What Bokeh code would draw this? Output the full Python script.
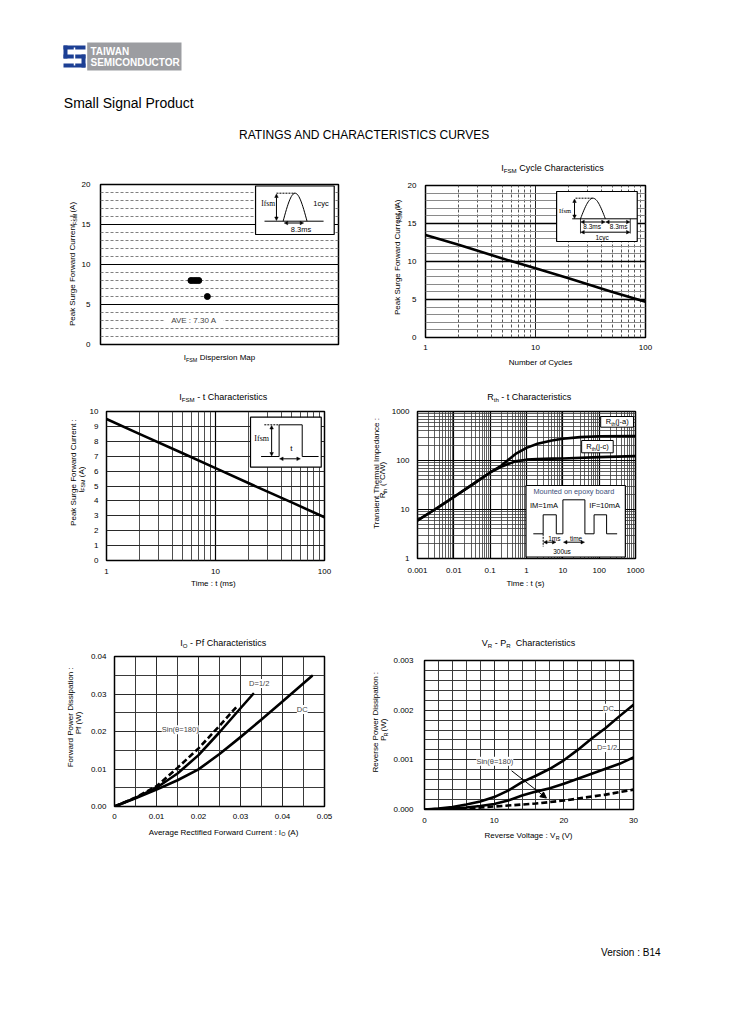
import math
import numpy as np
from bokeh.plotting import figure
from bokeh.models import Range1d, FixedTicker, Label, Arrow, NormalHead, CustomJSTickFormatter
from bokeh.layouts import column, row
from bokeh.embed import file_html
from bokeh.resources import INLINE

FONT = "Liberation Sans"
SERIF = "Liberation Serif"

# ---------------- data ----------------
# IFSM dispersion map
disp_x = [3.80, 3.91, 4.02, 4.13, 4.49]
disp_y = [8, 8, 8, 8, 6]
disp_ave = "AVE : 7.30 A"
disp_yticks = [0, 5, 10, 15, 20]

# IFSM cycle characteristics
cyc_n = [1, 2, 5, 10, 20, 50, 100]
cyc_i = [13.5, 12.2, 10.4, 9.1, 7.8, 6.0, 4.7]
cyc_xticks = [1, 10, 100]
cyc_yticks = [0, 5, 10, 15, 20]

# IFSM - t characteristics
ift_t = [1, 2, 5, 10, 20, 50, 100]
ift_i = [9.5, 8.5, 7.2, 6.2, 5.2, 3.9, 2.9]
ift_xticks = [1, 10, 100]
ift_yticks = [0, 1, 2, 3, 4, 5, 6, 7, 8, 9, 10]

# Rth - t characteristics
rth_t_ja = [0.001, 0.003, 0.01, 0.03, 0.1, 0.2, 0.5, 1, 2, 5, 10, 30, 100, 1000]
rth_ja = [6, 10, 18, 31, 57, 78, 136, 181, 219, 257, 278, 300, 312, 315]
rth_t_jc = [0.001, 0.003, 0.01, 0.03, 0.1, 0.2, 0.3, 0.5, 1, 2, 5, 10, 100, 1000]
rth_jc = [6, 10, 18, 31, 57, 74, 84, 96, 104, 107, 109, 110, 117, 123]
rth_xticks = [0.001, 0.01, 0.1, 1, 10, 100, 1000]
rth_yticks = [1, 10, 100, 1000]

# IO - Pf characteristics
io_dc_x = [0, 0.005, 0.01, 0.015, 0.02, 0.025, 0.03, 0.035, 0.04, 0.047]
io_dc_y = [0, 0.0022, 0.0045, 0.0070, 0.0099, 0.0140, 0.0185, 0.0232, 0.0280, 0.0348]
io_d2_x = [0, 0.005, 0.01, 0.015, 0.02, 0.025, 0.03, 0.033]
io_d2_y = [0, 0.0023, 0.0050, 0.0088, 0.0137, 0.0198, 0.0262, 0.0300]
io_sin_x = [0, 0.005, 0.01, 0.015, 0.02, 0.025, 0.029]
io_sin_y = [0, 0.0024, 0.0054, 0.0103, 0.0155, 0.0215, 0.0265]
io_xticks = [0, 0.01, 0.02, 0.03, 0.04, 0.05]
io_yticks = [0, 0.01, 0.02, 0.03, 0.04]

# VR - PR characteristics
vr_v = [0, 2, 4, 6, 8, 10, 12, 14, 16, 18, 20, 22, 24, 26, 28, 30]
vr_dc = [0, 0.00002, 0.00005, 0.0001, 0.00016, 0.00025, 0.00038, 0.00055, 0.00068,
         0.00082, 0.00099, 0.0012, 0.00143, 0.00164, 0.00188, 0.00211]
vr_d2 = [0, 0.00001, 0.00002, 0.00004, 0.00007, 0.00011, 0.00018, 0.00028, 0.00036,
         0.00043, 0.00052, 0.00062, 0.00072, 0.00082, 0.00092, 0.00105]
vr_sin = [0, 0.000005, 0.00001, 0.00002, 0.00004, 0.00006, 0.00008, 0.0001, 0.00012,
          0.00015, 0.00018, 0.00022, 0.00026, 0.0003, 0.00035, 0.0004]
vr_xticks = [0, 10, 20, 30]
vr_yticks = [0, 0.001, 0.002, 0.003]

# ---------------- text metrics (Arial / Liberation Sans) ----------------
AW = {' ': 278, '(': 333, ')': 333, ',': 278, '-': 333, '.': 278, '/': 278, ':': 278,
      '=': 584, '°': 400, 'θ': 556,
      'A': 667, 'B': 667, 'C': 722, 'D': 722, 'E': 667, 'F': 611, 'G': 778, 'H': 722,
      'I': 278, 'J': 500, 'K': 667, 'L': 556, 'M': 833, 'N': 722, 'O': 778, 'P': 667,
      'Q': 778, 'R': 722, 'S': 667, 'T': 611, 'U': 722, 'V': 667, 'W': 944, 'X': 667,
      'Y': 667, 'Z': 611, 'a': 556, 'b': 556, 'c': 500, 'd': 556, 'e': 556, 'f': 278,
      'g': 556, 'h': 556, 'i': 222, 'j': 222, 'k': 500, 'l': 222, 'm': 833, 'n': 556,
      'o': 556, 'p': 556, 'q': 556, 'r': 333, 's': 500, 't': 278, 'u': 556, 'v': 500,
      'w': 722, 'x': 500, 'y': 500, 'z': 500}


def tw(s, size):
    return sum(AW.get(ch, 556) for ch in s) * size / 1000.0


# ---------------- helpers ----------------
def chart(width, height, left, right, top, bottom, xr, yr, xlog=False, ylog=False):
    fw = width - left - right
    fh = height - top - bottom
    p = figure(width=width, height=height, x_range=Range1d(*xr), y_range=Range1d(*yr),
               x_axis_type="log" if xlog else "linear",
               y_axis_type="log" if ylog else "linear",
               output_backend="svg", toolbar_location=None,
               min_border_left=left, min_border_right=right,
               min_border_top=top, min_border_bottom=bottom)
    p.background_fill_color = "white"
    p.border_fill_color = "white"
    p.outline_line_color = "black"
    p.outline_line_width = 1.5
    p.outline_line_alpha = 1.0
    for ax in p.axis:
        ax.axis_line_color = None
        ax.major_tick_line_color = None
        ax.minor_tick_line_color = None
        ax.major_tick_out = 0
        ax.major_tick_in = 0
        ax.minor_tick_out = 0
        ax.minor_tick_in = 0
        ax.major_label_text_font = FONT
        ax.major_label_text_font_size = "8px"
        ax.major_label_text_color = "black"

    def conv(fx, fy):
        tx = fx / fw
        ty = 1.0 - fy / fh
        if xlog:
            a, b = math.log10(xr[0]), math.log10(xr[1])
            x = 10 ** (a + tx * (b - a))
        else:
            x = xr[0] + tx * (xr[1] - xr[0])
        if ylog:
            a, b = math.log10(yr[0]), math.log10(yr[1])
            y = 10 ** (a + ty * (b - a))
        else:
            y = yr[0] + ty * (yr[1] - yr[0])
        return x, y
    return p, conv


def tfig(w, h):
    f = figure(width=w, height=h, x_range=Range1d(0, w), y_range=Range1d(h, 0),
               output_backend="svg", toolbar_location=None, min_border=0,
               x_axis_location=None, y_axis_location=None)
    f.outline_line_color = None
    f.background_fill_color = "white"
    f.border_fill_color = "white"
    for g in f.grid:
        g.visible = False
    return f


def ident(a, b):
    return a, b


def grid_style(g, mc, mw, nc, nw, ndash="solid", mdash="solid"):
    g.grid_line_color = mc
    g.grid_line_width = mw
    g.grid_line_alpha = 1.0
    g.grid_line_dash = mdash
    g.minor_grid_line_color = nc
    g.minor_grid_line_width = nw
    g.minor_grid_line_alpha = 1.0
    g.minor_grid_line_dash = ndash


def rich(p, conv, fx, fy, parts, size=8, angle=0.0, color="black", font=FONT):
    sub = size * 0.68
    items = []
    for t, is_sub in parts:
        fs = sub if is_sub else size
        items.append((t, fs, is_sub, tw(t, fs)))
    total = sum(i[3] for i in items)
    off = -total / 2.0
    for t, fs, is_sub, w in items:
        lead = len(t) - len(t.lstrip(' '))
        st = t.strip(' ')
        o = off + tw(' ' * lead, fs)
        shift = size * 0.28 if is_sub else 0.0
        if angle == 0:
            px, py = fx + o, fy + shift
        else:
            px, py = fx + shift, fy - o
        x, y = conv(px, py)
        if st:
            p.add_layout(Label(x=x, y=y, text=st, text_font=font, text_font_size=f"{fs:.1f}px",
                               text_align="left", text_baseline="middle", angle=angle,
                               text_color=color))
        off += w


def txt(p, conv, fx, fy, s, size=7.5, font=FONT, color="black", align="center"):
    x, y = conv(fx, fy)
    p.add_layout(Label(x=x, y=y, text=s, text_font=font, text_font_size=f"{size}px",
                       text_align=align, text_baseline="middle", text_color=color))


def poly(p, conv, pts, dash="solid", lw=1.0, color="black"):
    xs, ys = zip(*[conv(a, b) for a, b in pts])
    p.line(list(xs), list(ys), line_color=color, line_width=lw, line_dash=dash)


def box(p, conv, l, t, r, b, lw=1.2, line="black"):
    x0, y0 = conv(l, b)
    x1, y1 = conv(r, t)
    p.quad(left=[x0], right=[x1], bottom=[y0], top=[y1], fill_color="white",
           line_color=line, line_width=lw)


def arr(p, conv, x0, y0, x1, y1, both=True, size=3.5):
    xs, ys = conv(x0, y0)
    xe, ye = conv(x1, y1)
    head = lambda: NormalHead(size=size, fill_color="black", line_color="black", line_width=0.5)
    p.add_layout(Arrow(start=head() if both else None, end=head(), x_start=xs, y_start=ys,
                       x_end=xe, y_end=ye, line_width=1.0, line_color="black"))


def arch(l, r, base, top):
    return [(l + (r - l) * u, base - (base - top) * math.sin(math.pi * u))
            for u in np.linspace(0, 1, 30)]


def panel(width, top_h, row_h, bot_h, yw, chart_fig):
    top = tfig(width, top_h)
    yt = tfig(yw, row_h)
    bot = tfig(width, bot_h)
    return top, yt, bot, column(top, row(yt, chart_fig), bot)


CURVE = dict(line_color="black", line_width=2.6, line_join="round", line_cap="round")
ROT = math.pi / 2

# ---------------- header ----------------
hdr = tfig(728, 160)
BLUE = "#1c3f94"
hdr.quad(left=[86.7], right=[181], top=[42], bottom=[70], fill_color="#9c9da1", line_color=None)
logo_l = [63, 63, 63, 81, 63]
logo_r = [85, 67, 85, 85, 85]
logo_t = [45, 45, 54, 54, 63]
logo_b = [49, 58, 58, 67, 67]
hdr.quad(left=logo_l, right=logo_r, top=logo_t, bottom=logo_b, fill_color=BLUE, line_color=None)
hdr.line([74, 74], [47, 65], line_color="white", line_width=1.5)
hdr.add_layout(Label(x=90, y=50.5, text="TAIWAN", text_font=FONT, text_font_style="bold",
                     text_font_size="10px", text_color="white", text_baseline="middle"))
hdr.add_layout(Label(x=90, y=61.8, text="SEMICONDUCTOR", text_font=FONT, text_font_style="bold",
                     text_font_size="10px", text_color="white", text_baseline="middle"))
hdr.add_layout(Label(x=63.3, y=102, text="Small Signal Product", text_font=FONT,
                     text_font_size="14px", text_color="black", text_baseline="middle"))
hdr.add_layout(Label(x=364, y=134, text="RATINGS AND CHARACTERISTICS CURVES", text_font=FONT,
                     text_font_size="12px", text_color="black", text_baseline="middle",
                     text_align="center"))

# ---------------- chart 1 : dispersion map ----------------
f1, c1 = chart(287, 176, 21, 27, 8, 8, (0, 10), (0, 20))
f1.xaxis.visible = False
f1.xgrid.grid_line_color = None
f1.yaxis.ticker = FixedTicker(ticks=disp_yticks, minor_ticks=list(range(0, 21)))
f1.yaxis.major_label_standoff = 10
grid_style(f1.ygrid[0], "black", 1.0, "#808080", 1.0, ndash="3 2")
x0, y0 = c1(63.7, 141)
x1, y1 = c1(123.7, 131)
f1.quad(left=[x0], right=[x1], bottom=[y0], top=[y1], fill_color="white", line_color=None)
ax_, ay_ = c1(93.7, 136)
f1.add_layout(Label(x=ax_, y=ay_, text=disp_ave, text_font=FONT, text_font_size="8px",
                    text_align="center", text_baseline="middle"))
f1.scatter(disp_x, disp_y, size=6, color="black")
box(f1, c1, 155.7, 1.5, 234.7, 50)
poly(f1, c1, [(164.7, 36.7), (224, 36.7)])
poly(f1, c1, arch(183.4, 207.4, 36.7, 8.7))
poly(f1, c1, [(176.7, 8.7), (195.4, 8.7)], dash="2 1")
arr(f1, c1, 176.7, 9.5, 176.7, 36)
arr(f1, c1, 184.5, 38.5, 204, 38.5)
txt(f1, c1, 168.3, 19.3, "Ifsm", 7.5, SERIF)
txt(f1, c1, 221.4, 19.3, "1cyc", 7.5)
txt(f1, c1, 201.4, 44.8, "8.3ms", 7.5)
t1, y1f, b1, P1 = panel(365, 16, 176, 26, 78, f1)
rich(y1f, ident, 72, 88, [("Peak Surge Forward Current : I", False), ("FSM", True), (" (A)", False)],
     size=8, angle=ROT)
rich(b1, ident, 219, 5, [("I", False), ("FSM", True), (" Dispersion Map", False)], size=8)

# ---------------- chart 2 : cycle characteristics ----------------
f2, c2 = chart(324, 178, 20, 83, 9, 17, (1, 100), (0, 20), xlog=True)
f2.xaxis.ticker = FixedTicker(ticks=cyc_xticks,
                              minor_ticks=[k * 10 ** e for e in (0, 1) for k in range(2, 10)])
f2.xaxis.formatter = CustomJSTickFormatter(code="return tick.toString();")
f2.yaxis.ticker = FixedTicker(ticks=cyc_yticks, minor_ticks=list(range(0, 21)))
f2.yaxis.major_label_standoff = 9
f2.xaxis.major_label_standoff = 7
grid_style(f2.xgrid[0], "#222222", 1.0, "#555555", 1.0, ndash="3 2")
grid_style(f2.ygrid[0], "black", 1.6, "#8a8a8a", 1.2)
f2.line(cyc_n, cyc_i, **CURVE)
box(f2, c2, 131.7, 6, 212.7, 56)
txt(f2, c2, 140.2, 25, "Ifsm", 6.5, SERIF)
arr(f2, c2, 149.7, 13.5, 149.7, 33)
poly(f2, c2, [(150.7, 12.7), (168, 12.7)], dash="2 1")
poly(f2, c2, arch(155.7, 180.7, 33.3, 12.7))
poly(f2, c2, [(147.4, 33.3), (212.4, 33.3)])
poly(f2, c2, [(155.7, 33.3), (155.7, 48)], lw=0.8)
poly(f2, c2, [(205.7, 33.3), (205.7, 48)], lw=0.8)
arr(f2, c2, 156, 36.5, 180.5, 36.5)
arr(f2, c2, 181, 36.5, 205.4, 36.5)
txt(f2, c2, 167.4, 41.3, "8.3ms", 6.5)
txt(f2, c2, 194, 41.3, "8.3ms", 6.5)
arr(f2, c2, 156, 46.7, 205.4, 46.7)
txt(f2, c2, 177.4, 52.2, "1cyc", 6.5)
t2, y2f, b2, P2 = panel(363, 16, 178, 24, 39, f2)
rich(t2, ident, 187, 7.5, [("I", False), ("FSM", True), (" Cycle Characteristics", False)], size=9)
rich(y2f, ident, 32, 85, [("Peak Surge Forward Current, I", False), ("FSM", True), (" (A)", False)],
     size=8, angle=ROT)
rich(b2, ident, 175, 8, [("Number of Cycles", False)], size=8)

# ---------------- chart 3 : IFSM - t ----------------
f3, c3 = chart(279, 175, 17, 41, 8, 18, (1, 100), (0, 10), xlog=True)
f3.xaxis.ticker = FixedTicker(ticks=ift_xticks,
                              minor_ticks=[k * 10 ** e for e in (0, 1) for k in range(2, 10)])
f3.xaxis.formatter = CustomJSTickFormatter(code="return tick.toString();")
f3.yaxis.ticker = FixedTicker(ticks=ift_yticks)
f3.yaxis.major_label_standoff = 8
f3.xaxis.major_label_standoff = 8
grid_style(f3.xgrid[0], "black", 1.2, "#3a3a3a", 0.9)
grid_style(f3.ygrid[0], "#2a2a2a", 1.0, None, 1.0)
f3.line(ift_t, ift_i, **CURVE)
box(f3, c3, 146, 5.7, 217.7, 55.7)
arr(f3, c3, 167.4, 14, 167.4, 44.5)
poly(f3, c3, [(160, 13.3), (175, 13.3)], dash="2 1")
poly(f3, c3, [(156.7, 45), (175, 45), (175, 13.3), (198.4, 13.3), (198.4, 45), (215, 45)])
txt(f3, c3, 157.3, 27.3, "Ifsm", 8, SERIF)
txt(f3, c3, 187.4, 37.3, "t", 8)
arr(f3, c3, 175.5, 47.3, 196.5, 47.3)
t3, y3f, b3, P3 = panel(365, 25, 175, 47, 86, f3)
rich(t3, ident, 224, 18.5, [("I", False), ("FSM", True), (" - t  Characteristics", False)], size=9)
rich(y3f, ident, 73, 81, [("Peak Surge Forward Current :", False)], size=8, angle=ROT)
rich(y3f, ident, 80.5, 81, [("I", False), ("FSM", True), ("  (A)", False)], size=8, angle=ROT)
rich(b3, ident, 213, 5.3, [("Time : t (ms)", False)], size=8)

# ---------------- chart 4 : Rth - t ----------------
f4, c4 = chart(340, 175, 26, 93, 8, 20, (0.001, 1000), (1, 1000), xlog=True, ylog=True)
f4.xaxis.ticker = FixedTicker(ticks=rth_xticks,
                              minor_ticks=[k * 10 ** e for e in range(-3, 3) for k in range(2, 10)])
f4.yaxis.ticker = FixedTicker(ticks=rth_yticks,
                              minor_ticks=[k * 10 ** e for e in range(0, 3) for k in range(2, 10)])
f4.xaxis.formatter = CustomJSTickFormatter(code="return tick.toString();")
f4.yaxis.formatter = CustomJSTickFormatter(code="return tick.toString();")
f4.yaxis.major_label_standoff = 8
f4.xaxis.major_label_standoff = 9
grid_style(f4.xgrid[0], "black", 1.2, "#3a3a3a", 0.8)
grid_style(f4.ygrid[0], "black", 1.2, "#3a3a3a", 0.8)
f4.line(rth_t_ja, rth_ja, **CURVE)
f4.line(rth_t_jc, rth_jc, **CURVE)
box(f4, c4, 185.7, 5, 219, 15.7, lw=1.0)
rich(f4, c4, 202.4, 10.4, [("R", False), ("th", True), ("(j-a)", False)], size=7.5)
box(f4, c4, 166.4, 29, 198.4, 41.3, lw=1.0)
rich(f4, c4, 182.4, 35.2, [("R", False), ("th", True), ("(j-c)", False)], size=7.5)
box(f4, c4, 110, 74, 210.7, 145.5, lw=1.2)
txt(f4, c4, 158.5, 79.8, "Mounted on epoxy board", 7.3, color="#3b4f7a")
txt(f4, c4, 128.2, 94, "IM=1mA", 7.5)
txt(f4, c4, 189.7, 94, "IF=10mA", 7.5)
poly(f4, c4, [(117.4, 122.3), (127.4, 122.3), (127.4, 103.3), (140.7, 103.3), (140.7, 122.3),
              (147.4, 122.3), (147.4, 88.3), (169.7, 88.3), (169.7, 122.3), (179, 122.3),
              (179, 103.3), (191.7, 103.3), (191.7, 122.3), (202.4, 122.3)])
poly(f4, c4, [(127.4, 122.3), (127.4, 135)], dash="2 1")
arr(f4, c4, 127.8, 130.7, 140.3, 130.7)
arr(f4, c4, 148, 130.7, 169.3, 130.7)
txt(f4, c4, 138.7, 126.5, "1ms", 6.5)
txt(f4, c4, 160.7, 126.5, "time", 6.5)
txt(f4, c4, 146.5, 140, "300us", 6.5)
t4, y4f, b4, P4 = panel(363, 25, 175, 47, 23, f4)
rich(t4, ident, 165, 18.5, [("R", False), ("th", True), (" - t  Characteristics", False)], size=9)
rich(y4f, ident, 11, 84, [("Transient Thermal Impedance :", False)], size=8, angle=ROT)
rich(y4f, ident, 17.2, 84, [("R", False), ("th", True), ("  (°C/W)", False)], size=8, angle=ROT)
rich(b4, ident, 160, 4.8, [("Time : t (s)", False)], size=8)

# ---------------- chart 5 : IO - Pf ----------------
f5, c5 = chart(281, 176, 30, 41, 6, 20, (0, 0.05), (0, 0.04))
f5.xaxis.ticker = FixedTicker(ticks=io_xticks, minor_ticks=[0.005, 0.015, 0.025, 0.035, 0.045])
f5.yaxis.ticker = FixedTicker(ticks=io_yticks, minor_ticks=[0.005, 0.015, 0.025, 0.035])
f5.xaxis.formatter = CustomJSTickFormatter(code="return tick == 0 ? '0' : tick.toFixed(2);")
f5.yaxis.formatter = CustomJSTickFormatter(code="return tick.toFixed(2);")
f5.yaxis.major_label_standoff = 8
f5.xaxis.major_label_standoff = 7
grid_style(f5.xgrid[0], "#2a2a2a", 1.0, "#3a3a3a", 1.0)
grid_style(f5.ygrid[0], "#2a2a2a", 1.0, "#3a3a3a", 1.0)
f5.line(io_dc_x, io_dc_y, **CURVE)
f5.line(io_d2_x, io_d2_y, **CURVE)
f5.line(io_sin_x, io_sin_y, line_dash="6 3", line_color="black", line_width=2.6)
for lx, ly, lt in [(0.03445, 0.0328, "D=1/2"), (0.0447, 0.0259, "DC"), (0.01564, 0.0205, "Sin(θ=180)")]:
    f5.add_layout(Label(x=lx, y=ly, text=lt, text_font=FONT, text_font_size="7.5px",
                        text_align="center", text_baseline="middle",
                        background_fill_color="white", background_fill_alpha=1.0))
t5, y5f, b5, P5 = panel(365, 25, 176, 54, 84, f5)
rich(t5, ident, 224, 17.5, [("I", False), ("O", True), (" - Pf  Characteristics", False)], size=9)
rich(y5f, ident, 70, 80, [("Forward Power Dissipation :", False)], size=8, angle=ROT)
rich(y5f, ident, 78, 80, [("Pf (W)", False)], size=8, angle=ROT)
rich(b5, ident, 223, 5.7, [("Average Rectified Forward Current : I", False), ("O", True), (" (A)", False)],
     size=8)

# ---------------- chart 6 : VR - PR ----------------
f6, c6 = chart(338, 180, 34, 95, 10, 21, (0, 30), (0, 0.003))
f6.xaxis.ticker = FixedTicker(ticks=vr_xticks, minor_ticks=list(range(0, 31, 2)))
f6.yaxis.ticker = FixedTicker(ticks=vr_yticks,
                              minor_ticks=[k * 0.0002 for k in range(0, 16)])
f6.yaxis.formatter = CustomJSTickFormatter(code="return tick.toFixed(3);")
f6.yaxis.major_label_standoff = 11
f6.xaxis.major_label_standoff = 8
grid_style(f6.xgrid[0], "#2a2a2a", 1.0, "#3a3a3a", 1.0)
grid_style(f6.ygrid[0], "#2a2a2a", 1.0, "#3a3a3a", 1.0)
f6.line(vr_v, vr_dc, **CURVE)
f6.line(vr_v, vr_d2, **CURVE)
f6.line(vr_v, vr_sin, line_dash="6 3", line_color="black", line_width=2.6)
for lx, ly, lt in [(26.4, 0.00204, "DC"), (26.2, 0.00125, "D=1/2"), (10.1, 0.00097, "Sin(θ=180)")]:
    f6.add_layout(Label(x=lx, y=ly, text=lt, text_font=FONT, text_font_size="7.5px",
                        text_align="center", text_baseline="middle",
                        background_fill_color="white", background_fill_alpha=1.0))
f6.add_layout(Arrow(end=NormalHead(size=6, fill_color="black", line_color="black"),
                    x_start=12.5, y_start=0.00078, x_end=17.5, y_end=0.00023,
                    line_width=1.0, line_color="black"))
t6, y6f, b6, P6 = panel(363, 25, 180, 50, 25, f6)
rich(t6, ident, 163, 17.5, [("V", False), ("R", True), (" - P", False), ("R", True),
                            ("  Characteristics", False)], size=9)
rich(y6f, ident, 10, 85, [("Reverse Power Dissipation :", False)], size=8, angle=ROT)
rich(y6f, ident, 18.3, 85, [("P", False), ("R", True), (" (W)", False)], size=8, angle=ROT)
rich(b6, ident, 163, 5, [("Reverse Voltage : V", False), ("R", True), (" (V)", False)], size=8)

# ---------------- footer ----------------
ftr = tfig(728, 150)
ftr.add_layout(Label(x=660, y=72, text="Version : B14", text_font=FONT, text_font_size="10px",
                     text_align="right", text_baseline="middle", text_color="black"))

page = column(hdr, row(P1, P2), row(P3, P4), row(P5, P6), ftr)
open("out.html", "w").write(file_html(page, INLINE))
